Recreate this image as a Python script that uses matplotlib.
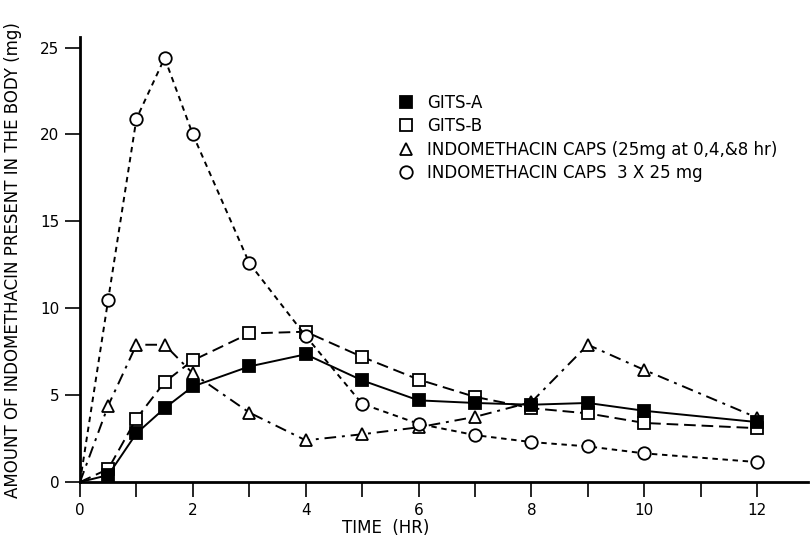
import numpy as np
import matplotlib.pyplot as plt

plt.rcParams['font.family'] = ['DejaVu Sans']

# время (ч)
time = [0, 0.5, 1, 1.5, 2, 3, 4, 5, 6, 7, 8, 9, 10, 12]

# количество индометацина в организме (мг)
gits_a = [0, 0.4, 2.8, 4.25, 5.5, 6.65, 7.35, 5.85, 4.7, 4.55, 4.45, 4.55, 4.1, 3.45]
gits_b = [0, 0.75, 3.65, 5.75, 7.0, 8.55, 8.65, 7.2, 5.9, 4.9, 4.25, 3.95, 3.4, 3.1]
caps_split = [0, 4.4, 7.9, 7.9, 6.25, 4.0, 2.4, 2.75, 3.15, 3.75, 4.6, 7.9, 6.45, 3.7]
caps_single = [0, 10.5, 20.9, 24.4, 20.0, 12.6, 8.4, 4.5, 3.35, 2.7, 2.3, 2.05, 1.65, 1.15]

labels = ['GITS-A', 'GITS-B',
          'INDOMETHACIN CAPS (25mg at 0,4,&8 hr)',
          'INDOMETHACIN CAPS  3 X 25 mg']

fig = plt.figure(figsize=(8.12, 5.38), dpi=100)
ax = fig.add_axes([0.0985, 0.104, 0.8965, 0.827])

lw = 1.4
mk = dict(markersize=9, markeredgewidth=1.3, markeredgecolor='black', markevery=slice(1, None))

ax.plot(time, gits_a, color='black', lw=lw, ls='-', marker='s',
        markerfacecolor='black', label=labels[0], zorder=4, **mk)
ax.plot(time, gits_b, color='black', lw=lw, ls=(0, (6, 3)), marker='s',
        markerfacecolor='white', label=labels[1], zorder=3, **mk)
ax.plot(time, caps_split, color='black', lw=lw, ls=(0, (6, 3, 1.5, 3)), marker='^',
        markerfacecolor='white', label=labels[2], zorder=3, **mk)
ax.plot(time, caps_single, color='black', lw=lw, ls=(0, (2.8, 2.4)), marker='o',
        markerfacecolor='white', label=labels[3], zorder=3, **mk)

ax.set_xlim(0, 12.9)
ax.set_ylim(0, 25.6)
ax.set_xticks(np.arange(0, 13, 1))
ax.set_xticklabels(['0', '', '2', '', '4', '', '6', '', '8', '', '10', '', '12'])
ax.set_yticks([0, 5, 10, 15, 20, 25])

for s in ['top', 'right']:
    ax.spines[s].set_visible(False)
for s in ['left', 'bottom']:
    ax.spines[s].set_linewidth(2)
ax.tick_params(direction='out', length=11, width=1.2, labelsize=11, pad=4)

ax.set_xlabel('TIME  (HR)', fontsize=12)
ax.xaxis.set_label_coords(0.42, -0.084)
ax.set_ylabel('AMOUNT OF INDOMETHACIN PRESENT IN THE BODY (mg)', fontsize=12)
ax.yaxis.set_label_coords(-0.08, 0.5)

leg = ax.legend(loc='upper left', bbox_to_anchor=(0.425, 0.892), frameon=False,
                fontsize=12, handlelength=1.0, handletextpad=0.76, labelspacing=0.33,
                borderpad=0)
for h in leg.get_lines():
    h.set_linestyle('None')

fig.savefig('out.png', dpi=100)
